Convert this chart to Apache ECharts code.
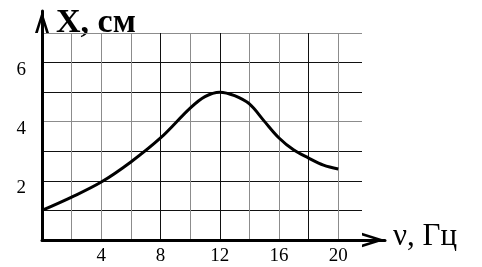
<!DOCTYPE html>
<html>
<head>
<meta charset="utf-8">
<script src="https://cdn.jsdelivr.net/npm/echarts@6/dist/echarts.min.js"></script>
<style>
  html, body { margin: 0; padding: 0; background: #fff; }
  #chart { width: 482px; height: 267px; }
</style>
</head>
<body>
<div id="chart"></div>
<script>
// частота, Гц
const freq = [0, 2, 4, 6, 8, 10, 11, 12, 13, 14, 15, 16, 17, 18, 19, 20]
// амплитуда, см
const ampl = [1.0, 1.45, 1.96, 2.64, 3.45, 4.46, 4.85, 5.0, 4.88, 4.6, 4.02, 3.45, 3.04, 2.77, 2.53, 2.4]
const xTickLabels = [4, 8, 12, 16, 20]
const yTickLabels = [2, 4, 6]

// цвета линий сетки (скан: часть линий серые, часть чёрные)
const xGridColors = ['#111', '#8c8c8c', '#8c8c8c', '#8c8c8c', '#111', '#8c8c8c', '#111', '#8c8c8c', '#8c8c8c', '#111', '#8c8c8c']
const yGridColors = ['#111', '#111', '#111', '#111', '#8c8c8c', '#111', '#111', '#8c8c8c']

const FONT = 'Liberation Serif'
// стрелка-«галочка» на конце оси
const chevron = 'path://M0,22 L7,0 L14,22 L11.2,22 L7,8 L2.8,22 Z'

const chart = echarts.init(document.getElementById('chart'))
const option = {
  animation: false,
  backgroundColor: '#fff',
  grid: [
    { left: 42, top: 33, right: 120, bottom: 27 }, // сетка с данными
    { left: 42, top: 11, right: 97, bottom: 27 }   // оси со стрелками
  ],
  xAxis: [
    {
      gridIndex: 0,
      type: 'value',
      min: 0,
      max: 21.6,
      interval: 2,
      axisLine: { show: false },
      axisTick: { show: false },
      axisLabel: {
        margin: 7,
        color: '#000',
        fontFamily: FONT,
        fontSize: 19,
        formatter: v => xTickLabels.indexOf(v) >= 0 ? String(v) : ''
      },
      splitLine: { show: true, showMaxLine: false, lineStyle: { color: xGridColors, width: 1 } }
    },
    {
      gridIndex: 1,
      type: 'value',
      min: 0,
      max: 1,
      axisLine: {
        show: true,
        onZero: false,
        symbol: ['none', chevron],
        symbolSize: [16, 23],
        symbolOffset: [0, -11.5],
        lineStyle: { color: '#000', width: 3 }
      },
      axisTick: { show: false },
      axisLabel: { show: false },
      splitLine: { show: false }
    }
  ],
  yAxis: [
    {
      gridIndex: 0,
      type: 'value',
      min: 0,
      max: 7,
      interval: 1,
      axisLine: { show: false },
      axisTick: { show: false },
      axisLabel: {
        margin: 16,
        color: '#000',
        fontFamily: FONT,
        fontSize: 19,
        verticalAlign: 'top',
        lineHeight: 15,
        formatter: v => yTickLabels.indexOf(v) >= 0 ? String(v) : ''
      },
      splitLine: { show: true, lineStyle: { color: yGridColors, width: 1 } }
    },
    {
      gridIndex: 1,
      type: 'value',
      min: 0,
      max: 1,
      axisLine: {
        show: true,
        onZero: false,
        symbol: ['none', chevron],
        symbolSize: [14, 22],
        symbolOffset: [0, -11],
        lineStyle: { color: '#000', width: 3 }
      },
      axisTick: { show: false },
      axisLabel: { show: false },
      splitLine: { show: false }
    }
  ],
  graphic: [
    {
      type: 'text',
      left: 56,
      top: 6,
      style: { text: 'X, см', font: 'bold 34px "Liberation Serif"', fill: '#000' }
    },
    {
      type: 'text',
      left: 393,
      top: 221,
      style: { text: 'ν, Гц', font: '31px "Liberation Serif"', fill: '#000' }
    }
  ],
  series: [
    {
      type: 'line',
      xAxisIndex: 0,
      yAxisIndex: 0,
      data: freq.map((f, i) => [f, ampl[i]]),
      smooth: 0.35,
      showSymbol: false,
      lineStyle: { color: '#000', width: 3 }
    }
  ]
}
chart.setOption(option)
</script>
</body>
</html>
